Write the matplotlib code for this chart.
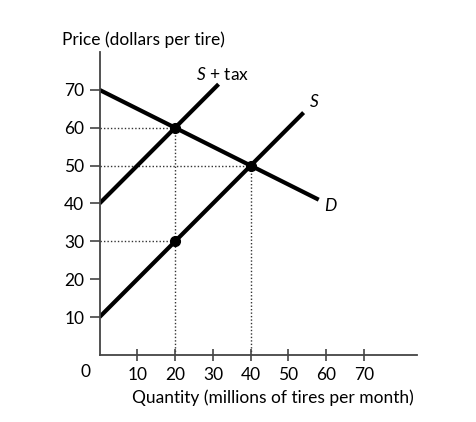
import matplotlib
matplotlib.use("Agg")
import matplotlib.pyplot as plt

plt.rcParams['font.family'] = ['Lato', 'DejaVu Sans']
plt.rcParams['mathtext.fontset'] = 'custom'
plt.rcParams['mathtext.it'] = 'Lato:italic'
plt.rcParams['mathtext.rm'] = 'Lato'

# Data
demand_q = [0, 58]
demand_p = [70, 41]
supply_q = [0, 54]
supply_p = [10, 64]
supply_tax_q = [0, 31.5]
supply_tax_p = [40, 71.5]
points_q = [20, 40, 20]
points_p = [60, 50, 30]
xticks = [10, 20, 30, 40, 50, 60, 70]
yticks = [10, 20, 30, 40, 50, 60, 70]

FS = 12.5

fig = plt.figure(figsize=(4.77, 4.22), dpi=100)
ax = fig.add_axes([0.2086, 0.1588, 0.6656, 0.718])
ax.set_xlim(0, 84)
ax.set_ylim(0, 80)

# dotted guide lines
guide = dict(color='#333333', linestyle=(0, (1, 1.5)), linewidth=1.0, zorder=1)
for q, p in zip(points_q, points_p):
    ax.plot([0, q], [p, p], **guide)
ax.plot([20, 20], [0, 60], **guide)
ax.plot([40, 40], [0, 50], **guide)

lw = 3.0
ax.plot(demand_q, demand_p, color='black', linewidth=lw, solid_capstyle='butt', zorder=2)
ax.plot(supply_q, supply_p, color='black', linewidth=lw, solid_capstyle='butt', zorder=2)
ax.plot(supply_tax_q, supply_tax_p, color='black', linewidth=lw, solid_capstyle='butt', zorder=2)
ax.plot(points_q, points_p, 'o', color='black', markersize=7, zorder=3)

ax.text(25.5, 74.0, r'$\mathit{S}$ + tax', fontsize=FS, ha='left', va='center')
ax.text(55.5, 66.8, r'$\mathit{S}$', fontsize=FS, ha='left', va='center')
ax.text(59.5, 39.5, r'$\mathit{D}$', fontsize=FS, ha='left', va='center')

for s in ['top', 'right']:
    ax.spines[s].set_visible(False)
for s in ['left', 'bottom']:
    ax.spines[s].set_linewidth(1.3)
    ax.spines[s].set_color('#444444')

ax.set_xticks(xticks)
ax.set_yticks(yticks)
ax.set_xticklabels([str(v) for v in xticks], fontsize=FS)
ax.set_yticklabels([str(v) for v in yticks], fontsize=FS)
ax.tick_params(axis='x', direction='inout', length=9, width=1.2, color='#444444', pad=4)
ax.tick_params(axis='y', direction='out', length=7, width=1.2, color='#444444', pad=4)

ax.text(-2.5, -4.5, '0', fontsize=FS, ha='right', va='center')
ax.set_xlabel('Quantity (millions of tires per month)', fontsize=FS, labelpad=5, x=0.545)
fig.text(0.13, 0.905, 'Price (dollars per tire)', fontsize=FS, ha='left', va='center')

fig.savefig('out.png', dpi=100)
